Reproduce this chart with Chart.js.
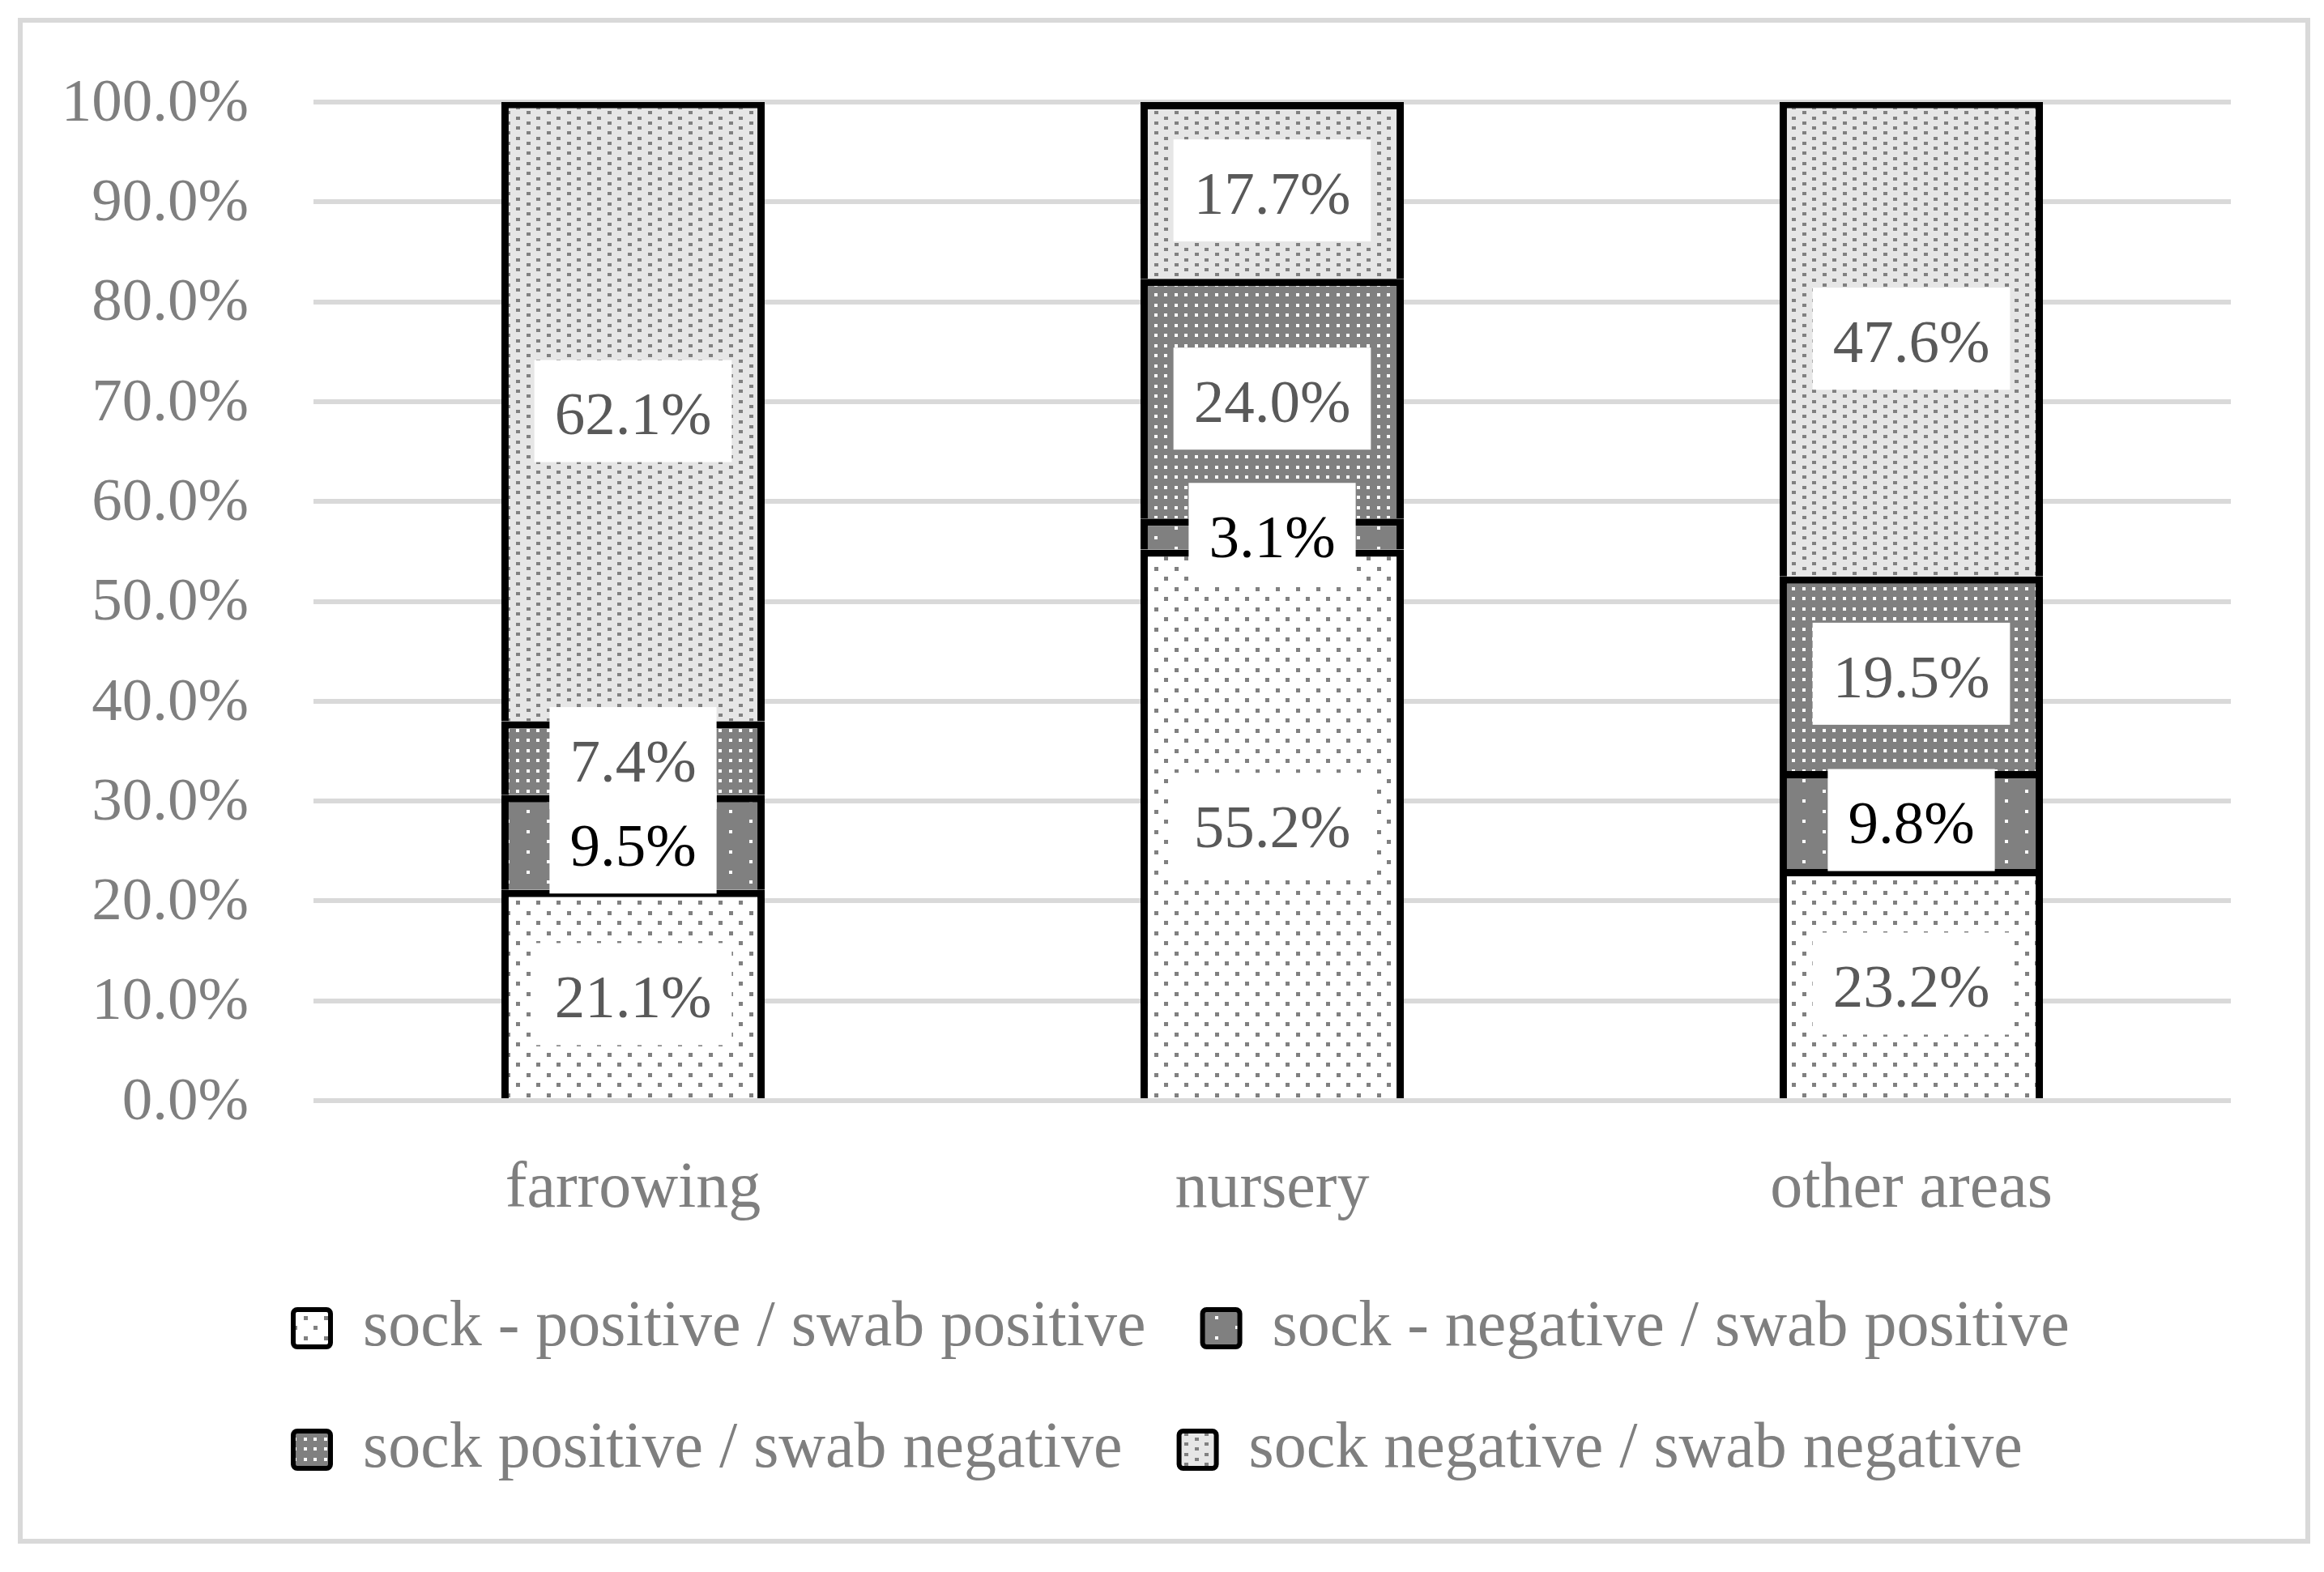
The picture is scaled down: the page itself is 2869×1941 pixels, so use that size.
<!DOCTYPE html>
<html>
<head>
<meta charset="utf-8">
<script src="https://cdn.jsdelivr.net/npm/chart.js@4.4.1/dist/chart.umd.min.js"></script>
<style>
html,body{margin:0;padding:0;background:#fff;}
canvas{display:block;}
</style>
</head>
<body>
<canvas id="sock_chart" width="2869" height="1941"></canvas>
<script>
var categories = ["farrowing", "nursery", "other areas"];
var series_names = [
    "sock - positive / swab positive",
    "sock - negative / swab positive",
    "sock positive / swab negative",
    "sock negative / swab negative"
];
var sock_pos_swab_pos = [21.1, 55.2, 23.2];
var sock_neg_swab_pos = [9.5, 3.1, 9.8];
var sock_pos_swab_neg = [7.4, 24.0, 19.5];
var sock_neg_swab_neg = [62.1, 17.7, 47.6];
var label_colors = ["#595959", "#000000", "#595959", "#595959"];

var FONT = '"Liberation Serif", "Times New Roman", serif';
var cnv = document.getElementById("sock_chart");
var ctx0 = cnv.getContext("2d");

//********************************************** */
function MakePattern(bg, fg, tw, th, dots, dw, dh){
    let c = document.createElement("canvas");
    c.width = tw; c.height = th;
    let x = c.getContext("2d");
    x.fillStyle = bg;
    x.fillRect(0, 0, tw, th);
    x.fillStyle = fg;
    for(let k = 0; k < dots.length; k++){
        x.fillRect(dots[k][0], dots[k][1], dw, dh);
    }
    return ctx0.createPattern(c, "repeat");
}
var patterns = [
    MakePattern("#ffffff", "#808080", 25, 25, [[0,0],[12,12]], 5, 5),
    MakePattern("#808080", "#ffffff", 50, 25, [[0,0],[25,12]], 4, 4),
    MakePattern("#808080", "#ffffff", 25, 25, [[0,0],[12,0],[0,12],[12,12]], 4, 4),
    MakePattern("#e6e6e6", "#808080", 25, 25, [[0,0],[0,12],[12,6],[12,19]], 5, 4)
];

//********************************************** */
var frame_and_labels = {
    id: "frame_and_labels",
    afterLayout(chart){
        // legend columns start at the same x in both rows in the original
        chart.legend.left = 292;
        chart.legend.right = 2829;
    },
    beforeDraw(chart){
        let c = chart.ctx;
        c.save();
        c.fillStyle = "#fff";
        c.fillRect(0, 0, chart.width, chart.height);
        c.strokeStyle = "#d9d9d9";
        c.lineWidth = 6;
        c.strokeRect(25, 25, 2824, 1878);
        c.restore();
    },
    afterDatasetsDraw(chart){
        let c = chart.ctx;
        c.save();
        c.font = "75px " + FONT;
        c.textAlign = "center";
        c.textBaseline = "middle";
        let items = [];
        chart.data.datasets.forEach((ds, i) => {
            chart.getDatasetMeta(i).data.forEach((el, j) => {
                let txt = ds.data[j].toFixed(1) + "%";
                items.push({txt: txt, x: el.x, y: (el.y + el.base) / 2, col: label_colors[i]});
            });
        });
        items.forEach(it => {
            let w = c.measureText(it.txt).width + 50;
            c.fillStyle = "#fff";
            c.fillRect(it.x - w / 2, it.y - 63, w, 126);
        });
        items.forEach(it => {
            c.fillStyle = it.col;
            c.fillText(it.txt, it.x, it.y + 9);
        });
        c.restore();
    }
};

//********************************************** */
var series_data = [sock_pos_swab_pos, sock_neg_swab_pos, sock_pos_swab_neg, sock_neg_swab_neg];
var datasets = [];
for(let i = 0; i < series_names.length; i++){
    datasets.push({
        label: series_names[i],
        data: series_data[i],
        backgroundColor: patterns[i],
        borderColor: "#000",
        borderWidth: 9,
        borderSkipped: "start",
        barPercentage: 0.412,
        categoryPercentage: 1.0,
    });
}

var sock_chart = new Chart(cnv, {
    type: "bar",
    data: { labels: categories, datasets: datasets },
    plugins: [frame_and_labels],
    options: {
        responsive: false,
        animation: false,
        devicePixelRatio: 1,
        layout: { padding: { left: 0, right: 115, top: 126, bottom: 101 } },
        plugins: {
            tooltip: { enabled: false },
            legend: {
                position: "bottom",
                align: "start",
                labels: {
                    color: "#7f7f7f",
                    font: { family: FONT, size: 80 },
                    boxWidth: 46,
                    boxHeight: 46,
                    padding: 70,
                    useBorderRadius: true,
                    borderRadius: 5,
                    generateLabels(chart){
                        let items = Chart.defaults.plugins.legend.labels.generateLabels(chart);
                        items.forEach(it => { it.lineWidth = 6; it.strokeStyle = "#000"; });
                        return items;
                    }
                }
            }
        },
        scales: {
            x: {
                stacked: true,
                grid: { display: false },
                border: { display: false },
                ticks: { color: "#7f7f7f", font: { family: FONT, size: 80 }, padding: 54 },
                afterFit(s){ s.height = 171; }
            },
            y: {
                stacked: true,
                min: 0,
                max: 100,
                grid: { color: "#d9d9d9", lineWidth: 6, drawTicks: false },
                border: { display: false },
                ticks: {
                    stepSize: 10,
                    color: "#7f7f7f",
                    font: { family: FONT, size: 75 },
                    padding: 80,
                    labelOffset: 3,
                    callback: function(v){ return Number(v).toFixed(1) + "%"; }
                },
                afterFit(s){ s.width = 387; }
            }
        }
    }
});
</script>
</body>
</html>
